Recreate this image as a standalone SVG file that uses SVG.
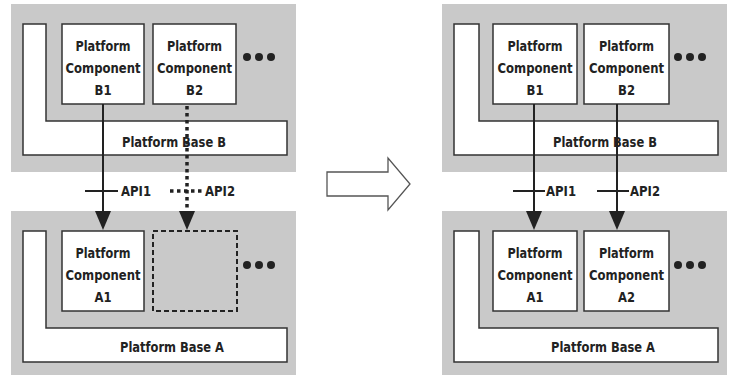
<svg xmlns="http://www.w3.org/2000/svg" width="732" height="376" viewBox="0 0 732 376">
  <defs>
    <style>
      .panel { fill: #c9c9c9; stroke: none; }
      .base { fill: #ffffff; stroke: #333333; stroke-width: 1.5; }
      .comp { fill: #ffffff; stroke: #333333; stroke-width: 1.5; }
      .ghost { fill: none; stroke: #222222; stroke-width: 2; stroke-dasharray: 5 3; }
      .lbl { font-family: "DejaVu Sans Condensed", "DejaVu Sans", sans-serif; font-weight: bold; font-size: 14.5px; fill: #222222; text-anchor: middle; }
      .api { font-family: "DejaVu Sans Condensed", "DejaVu Sans", sans-serif; font-weight: bold; font-size: 14px; fill: #222222; }
      .dot { fill: #222222; }
      .wire { stroke: #222222; stroke-width: 2; fill: none; }
      .dotted { stroke: #222222; stroke-width: 3.5; stroke-dasharray: 3.5 3.5; fill: none; }
      .head { fill: #222222; }
      .shift { fill: #ffffff; stroke: #555555; stroke-width: 1.3; }
    </style>
  </defs>

  <!-- Left: before -->
  <g id="left-stack-b">
    <rect class="panel" x="11" y="4" width="285" height="168"/>
    <path class="base" d="M23 24 H46 V121 H287 V155 H23 Z"/>
    <text class="lbl" x="174" y="147" textLength="104" lengthAdjust="spacingAndGlyphs">Platform Base B</text>
  </g>
  <g id="left-b1">
    <rect class="comp" x="62" y="24" width="82" height="80"/>
    <text class="lbl" x="103" y="51" textLength="55" lengthAdjust="spacingAndGlyphs">Platform</text>
    <text class="lbl" x="103" y="73" textLength="75" lengthAdjust="spacingAndGlyphs">Component</text>
    <text class="lbl" x="103" y="95" textLength="17" lengthAdjust="spacingAndGlyphs">B1</text>
  </g>
  <g id="left-b2">
    <rect class="comp" x="153" y="24" width="83" height="80"/>
    <text class="lbl" x="194.5" y="51" textLength="55" lengthAdjust="spacingAndGlyphs">Platform</text>
    <text class="lbl" x="194.5" y="73" textLength="75" lengthAdjust="spacingAndGlyphs">Component</text>
    <text class="lbl" x="194.5" y="95" textLength="17" lengthAdjust="spacingAndGlyphs">B2</text>
  </g>
  <g id="left-b-more">
    <circle class="dot" cx="247" cy="57" r="4"/>
    <circle class="dot" cx="259" cy="57" r="4"/>
    <circle class="dot" cx="271" cy="57" r="4"/>
  </g>

  <g id="left-stack-a">
    <rect class="panel" x="11" y="211" width="285" height="164"/>
    <path class="base" d="M23 231 H46 V328 H287 V362 H23 Z"/>
    <text class="lbl" x="172" y="352" textLength="104" lengthAdjust="spacingAndGlyphs">Platform Base A</text>
  </g>
  <g id="left-a1">
    <rect class="comp" x="62" y="231" width="82" height="80"/>
    <text class="lbl" x="103" y="258" textLength="55" lengthAdjust="spacingAndGlyphs">Platform</text>
    <text class="lbl" x="103" y="280" textLength="75" lengthAdjust="spacingAndGlyphs">Component</text>
    <text class="lbl" x="103" y="302" textLength="17" lengthAdjust="spacingAndGlyphs">A1</text>
  </g>
  <g id="left-a2-missing">
    <rect class="ghost" x="153" y="231" width="84" height="80"/>
  </g>
  <g id="left-a-more">
    <circle class="dot" cx="247" cy="265" r="4"/>
    <circle class="dot" cx="259" cy="265" r="4"/>
    <circle class="dot" cx="271" cy="265" r="4"/>
  </g>

  <!-- Right: after -->
  <g id="right-stack-b">
    <rect class="panel" x="442" y="4" width="285" height="168"/>
    <path class="base" d="M454 24 H479 V121 H718 V155 H454 Z"/>
    <text class="lbl" x="605" y="147" textLength="104" lengthAdjust="spacingAndGlyphs">Platform Base B</text>
  </g>
  <g id="right-b1">
    <rect class="comp" x="493" y="24" width="84" height="80"/>
    <text class="lbl" x="535" y="51" textLength="55" lengthAdjust="spacingAndGlyphs">Platform</text>
    <text class="lbl" x="535" y="73" textLength="75" lengthAdjust="spacingAndGlyphs">Component</text>
    <text class="lbl" x="535" y="95" textLength="17" lengthAdjust="spacingAndGlyphs">B1</text>
  </g>
  <g id="right-b2">
    <rect class="comp" x="584" y="24" width="85" height="80"/>
    <text class="lbl" x="626.5" y="51" textLength="55" lengthAdjust="spacingAndGlyphs">Platform</text>
    <text class="lbl" x="626.5" y="73" textLength="75" lengthAdjust="spacingAndGlyphs">Component</text>
    <text class="lbl" x="626.5" y="95" textLength="17" lengthAdjust="spacingAndGlyphs">B2</text>
  </g>
  <g id="right-b-more">
    <circle class="dot" cx="678" cy="57" r="4"/>
    <circle class="dot" cx="690" cy="57" r="4"/>
    <circle class="dot" cx="702" cy="57" r="4"/>
  </g>

  <g id="right-stack-a">
    <rect class="panel" x="442" y="211" width="285" height="164"/>
    <path class="base" d="M454 231 H479 V328 H718 V362 H454 Z"/>
    <text class="lbl" x="603" y="352" textLength="104" lengthAdjust="spacingAndGlyphs">Platform Base A</text>
  </g>
  <g id="right-a1">
    <rect class="comp" x="493" y="231" width="84" height="80"/>
    <text class="lbl" x="535" y="258" textLength="55" lengthAdjust="spacingAndGlyphs">Platform</text>
    <text class="lbl" x="535" y="280" textLength="75" lengthAdjust="spacingAndGlyphs">Component</text>
    <text class="lbl" x="535" y="302" textLength="17" lengthAdjust="spacingAndGlyphs">A1</text>
  </g>
  <g id="right-a2">
    <rect class="comp" x="584" y="231" width="85" height="80"/>
    <text class="lbl" x="626.5" y="258" textLength="55" lengthAdjust="spacingAndGlyphs">Platform</text>
    <text class="lbl" x="626.5" y="280" textLength="75" lengthAdjust="spacingAndGlyphs">Component</text>
    <text class="lbl" x="626.5" y="302" textLength="17" lengthAdjust="spacingAndGlyphs">A2</text>
  </g>
  <g id="right-a-more">
    <circle class="dot" cx="678" cy="265" r="4"/>
    <circle class="dot" cx="690" cy="265" r="4"/>
    <circle class="dot" cx="702" cy="265" r="4"/>
  </g>

  <!-- Transition arrow -->
  <g id="transition">
    <path class="shift" d="M327 172 H388 V158 L410 184 L388 210 V196 H327 Z"/>
  </g>

  <!-- API connectors -->
  <g id="connectors">
    <!-- left API1 -->
    <line class="wire" x1="103" y1="104" x2="103" y2="213"/>
    <line class="wire" x1="85" y1="191" x2="118" y2="191"/>
    <path class="head" d="M95 211 H111 L103 230 Z"/>
    <!-- left API2 (missing) -->
    <line class="dotted" x1="187" y1="106" x2="187" y2="211"/>
    <line class="dotted" x1="170" y1="191" x2="202" y2="191"/>
    <path class="head" d="M179 211 H195 L187 230 Z"/>
    <!-- right API1 -->
    <line class="wire" x1="534" y1="104" x2="534" y2="213"/>
    <line class="wire" x1="513" y1="191" x2="545" y2="191"/>
    <path class="head" d="M526 211 H542 L534 230 Z"/>
    <!-- right API2 -->
    <line class="wire" x1="617" y1="104" x2="617" y2="213"/>
    <line class="wire" x1="597" y1="191" x2="629" y2="191"/>
    <path class="head" d="M609 211 H625 L617 230 Z"/>
  </g>

  <g id="api-labels">
    <text class="api" x="121" y="196" textLength="30" lengthAdjust="spacingAndGlyphs">API1</text>
    <text class="api" x="205" y="196" textLength="30" lengthAdjust="spacingAndGlyphs">API2</text>
    <text class="api" x="546" y="196" textLength="30" lengthAdjust="spacingAndGlyphs">API1</text>
    <text class="api" x="630" y="196" textLength="30" lengthAdjust="spacingAndGlyphs">API2</text>
  </g>
</svg>
